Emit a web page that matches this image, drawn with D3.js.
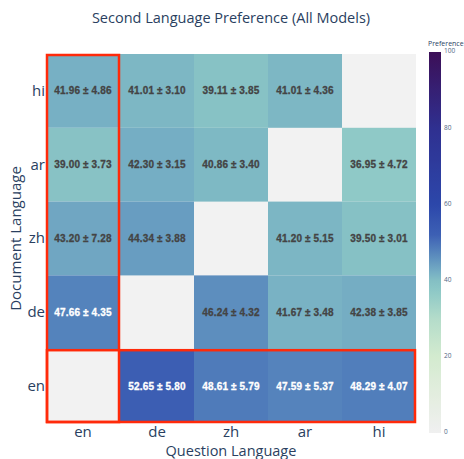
<!DOCTYPE html>
<html>
<head>
<meta charset="utf-8">
<script src="https://cdn.jsdelivr.net/npm/d3@7"></script>
<style>
  body { margin: 0; background: #fff; }
  svg { display: block; font-family: "Open Sans", verdana, arial, sans-serif; }
</style>
</head>
<body>
<script>
// question language (columns), document language (rows, top to bottom)
const questionLangs = ["en", "de", "zh", "ar", "hi"];
const documentLangs = ["hi", "ar", "zh", "de", "en"];

// mean preference, one row per document language
const means = [
  [41.96, 41.01, 39.11, 41.01, null],
  [39.00, 42.30, 40.86, null, 36.95],
  [43.20, 44.34, null, 41.20, 39.50],
  [47.66, null, 46.24, 41.67, 42.38],
  [null, 52.65, 48.61, 47.59, 48.29]
];
// standard deviation, same layout
const stds = [
  [4.86, 3.10, 3.85, 4.36, null],
  [3.73, 3.15, 3.40, null, 4.72],
  [7.28, 3.88, null, 5.15, 3.01],
  [4.35, null, 4.32, 3.48, 3.85],
  [null, 5.80, 5.79, 5.37, 4.07]
];
const colorTicks = [0, 20, 40, 60, 80, 100];

const width = 464, height = 459;
const margin = { left: 46, right: 48, top: 54, bottom: 36 };

const svg = d3.select("body").append("svg")
  .attr("width", width)
  .attr("height", height);

const x = d3.scaleBand().domain(questionLangs).range([margin.left, width - margin.right]);
const y = d3.scaleBand().domain(documentLangs).range([margin.top, height - margin.bottom]);

// colour ramp: grey -> pale green -> teal -> blue -> indigo -> purple
const color = d3.scaleLinear()
  .domain([0, 10, 20, 30, 37, 40, 42, 47, 52, 60, 80, 100])
  .range(["#f0f0f0", "#e3eddf", "#d3ebcf", "#b4dcca", "#8fc9c7", "#84bfc4", "#77b0c4",
          "#5888bd", "#3d60b4", "#2c47aa", "#2f3090", "#3c0f57"])
  .clamp(true);

// plot background (shows through for the empty diagonal)
svg.append("rect")
  .attr("x", x.range()[0])
  .attr("y", y.range()[0])
  .attr("width", x.range()[1] - x.range()[0])
  .attr("height", y.range()[1] - y.range()[0])
  .attr("fill", "#f2f2f2");

const cells = [];
documentLangs.forEach((doc, i) => {
  questionLangs.forEach((q, j) => {
    if (means[i][j] != null) cells.push({ doc, q, mean: means[i][j], std: stds[i][j] });
  });
});

svg.append("g").selectAll("rect")
  .data(cells)
  .join("rect")
  .attr("x", d => x(d.q))
  .attr("y", d => y(d.doc))
  .attr("width", x.bandwidth())
  .attr("height", y.bandwidth())
  .attr("fill", d => color(d.mean));

const txtColor = d => d.mean >= 47 ? "#ffffff" : "#444444";
svg.append("g").selectAll("text")
  .data(cells)
  .join("text")
  .attr("x", d => x(d.q) + x.bandwidth() / 2)
  .attr("y", d => y(d.doc) + y.bandwidth() / 2)
  .attr("dy", "0.35em")
  .attr("text-anchor", "middle")
  .style("font-family", "'Liberation Sans', Arial, sans-serif")
  .style("font-weight", "bold")
  .style("font-size", "10px")
  .style("letter-spacing", "0.15px")
  .attr("fill", txtColor)
  .attr("stroke", txtColor)
  .attr("stroke-width", 0.3)
  .text(d => `${d.mean.toFixed(2)} ± ${d.std.toFixed(2)}`);

// red highlight boxes: English question column and English document row
const red = "#ff2a0a";
svg.append("rect")
  .attr("x", x("en") + 1)
  .attr("y", y.range()[0] + 1)
  .attr("width", x.bandwidth() - 2)
  .attr("height", y.range()[1] - y.range()[0] - 2)
  .attr("fill", "none")
  .attr("stroke", red)
  .attr("stroke-width", 2.5);
svg.append("rect")
  .attr("x", x.range()[0] + 1)
  .attr("y", y("en") + 1)
  .attr("width", x.range()[1] - x.range()[0] - 2)
  .attr("height", y.bandwidth() - 2)
  .attr("fill", "none")
  .attr("stroke", red)
  .attr("stroke-width", 2.5);

// axes
const xAxis = svg.append("g")
  .attr("transform", `translate(0,${y.range()[1]})`)
  .call(d3.axisBottom(x).tickSize(0).tickPadding(3));
const yAxis = svg.append("g")
  .attr("transform", `translate(${x.range()[0]},0)`)
  .call(d3.axisLeft(y).tickSize(0).tickPadding(1));
[xAxis, yAxis].forEach(g => {
  g.select(".domain").remove();
  g.selectAll("text").attr("fill", "#2a3f5f").style("font-size", "15px")
    .style("font-family", "'Open Sans', verdana, arial, sans-serif");
});

svg.append("text")
  .attr("x", (x.range()[0] + x.range()[1]) / 2)
  .attr("y", 456)
  .attr("text-anchor", "middle")
  .attr("fill", "#2a3f5f")
  .style("font-size", "14.5px")
  .text("Question Language");

svg.append("text")
  .attr("transform", `translate(21,${(y.range()[0] + y.range()[1]) / 2}) rotate(-90)`)
  .attr("text-anchor", "middle")
  .attr("fill", "#2a3f5f")
  .style("font-size", "15px")
  .text("Document Language");

svg.append("text")
  .attr("x", (x.range()[0] + x.range()[1]) / 2)
  .attr("y", 23)
  .attr("text-anchor", "middle")
  .attr("fill", "#2a3f5f")
  .style("font-size", "14.5px")
  .text("Second Language Preference (All Models)");

// colour bar
const cbX = 429, cbW = 12;
const cb = d3.scaleLinear().domain([0, 100]).range([433, 52]);
const grad = svg.append("defs").append("linearGradient")
  .attr("id", "cbgrad")
  .attr("x1", 0).attr("y1", 1).attr("x2", 0).attr("y2", 0);
d3.range(0, 101, 2).forEach(v => {
  grad.append("stop").attr("offset", `${v}%`).attr("stop-color", color(v));
});
svg.append("rect")
  .attr("x", cbX)
  .attr("y", cb(100))
  .attr("width", cbW)
  .attr("height", cb(0) - cb(100))
  .attr("fill", "url(#cbgrad)");

const cbAxis = svg.append("g")
  .attr("transform", `translate(${cbX + cbW},0)`)
  .call(d3.axisRight(cb).tickValues(colorTicks).tickSize(0).tickPadding(3));
cbAxis.select(".domain").remove();
cbAxis.selectAll("text").attr("fill", "#506784").style("font-size", "6.5px")
  .attr("dy", "0.15em")
  .style("font-family", "'Open Sans', verdana, arial, sans-serif");

svg.append("text")
  .attr("x", cbX - 1)
  .attr("y", 46)
  .attr("fill", "#2a3f5f")
  .style("font-size", "7px")
  .text("Preference");
</script>
</body>
</html>
